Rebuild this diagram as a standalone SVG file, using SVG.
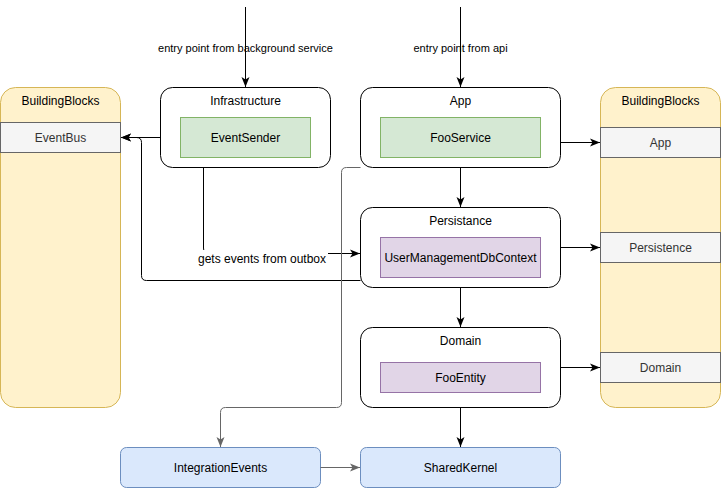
<svg xmlns="http://www.w3.org/2000/svg" width="721" height="488" viewBox="0 0 721 488">
<defs>
<style>
text{font-family:"Liberation Sans",Arial,sans-serif;font-size:12px;text-anchor:middle;dominant-baseline:central;fill:#000}
.lbl{font-size:11px}
.gray text,.row text{fill:#333}
.box{fill:#fff;stroke:#000;stroke-width:1}
.green{fill:#d5e8d4;stroke:#82b366}
.purple{fill:#e1d5e7;stroke:#9673a6}
.yellow{fill:#fff2cc;stroke:#d6b656}
.row rect{fill:#f5f5f5;stroke:#666}
.blue{fill:#dae8fc;stroke:#6c8ebf}
.e{fill:none;stroke:#000;stroke-width:1}
.eg{fill:none;stroke:#666;stroke-width:1}
</style>
<marker id="ab" markerUnits="userSpaceOnUse" markerWidth="12" markerHeight="10" refX="10" refY="4.5" orient="auto" viewBox="0 0 12 10">
<path d="M0,0.5 L10,4.5 L0,8.5 L2.5,4.5 z" fill="#000"/>
</marker>
<marker id="ag" markerUnits="userSpaceOnUse" markerWidth="12" markerHeight="10" refX="10" refY="4.5" orient="auto" viewBox="0 0 12 10">
<path d="M0,0.5 L10,4.5 L0,8.5 L2.5,4.5 z" fill="#666"/>
</marker>
</defs>
<rect width="721" height="488" fill="#fff"/>

<g id="bb-left">
<rect class="yellow" x="0.5" y="87.5" width="120" height="320" rx="15"/>
<text x="60.5" y="101">BuildingBlocks</text>
<g class="row"><rect x="0.5" y="122.5" width="120" height="30"/><text x="60.5" y="137.5">EventBus</text></g>
</g>

<g id="bb-right">
<rect class="yellow" x="600.5" y="87.5" width="120" height="320" rx="15"/>
<text x="660.5" y="101">BuildingBlocks</text>
<g class="row"><rect x="600.5" y="127.5" width="120" height="30"/><text x="660.5" y="142.5">App</text></g>
<g class="row"><rect x="600.5" y="232.5" width="120" height="30"/><text x="660.5" y="247.5">Persistence</text></g>
<g class="row"><rect x="600.5" y="352.5" width="120" height="30"/><text x="660.5" y="367.5">Domain</text></g>
</g>

<g id="infrastructure">
<rect class="box" x="160.5" y="87.5" width="170" height="80" rx="12"/>
<text x="245.5" y="101">Infrastructure</text>
<rect class="green" x="180.5" y="117.5" width="130" height="40"/>
<text x="245.5" y="137.5">EventSender</text>
</g>

<g id="app">
<rect class="box" x="360.5" y="87.5" width="200" height="80" rx="12"/>
<text x="460.5" y="101">App</text>
<rect class="green" x="380.5" y="117.5" width="160" height="40"/>
<text x="460.5" y="137.5">FooService</text>
</g>

<g id="persistance">
<rect class="box" x="360.5" y="207.5" width="200" height="80" rx="12"/>
<text x="460.5" y="221">Persistance</text>
<rect class="purple" x="380.5" y="237.5" width="160" height="40"/>
<text x="460.5" y="257.5">UserManagementDbContext</text>
</g>

<g id="domain">
<rect class="box" x="360.5" y="327.5" width="200" height="80" rx="12"/>
<text x="460.5" y="341">Domain</text>
<rect class="purple" x="380.5" y="362.5" width="160" height="30"/>
<text x="460.5" y="377.5">FooEntity</text>
</g>

<g id="integration-events">
<rect class="blue" x="120.5" y="447.5" width="200" height="40" rx="6"/>
<text x="220.5" y="467.5">IntegrationEvents</text>
</g>

<g id="shared-kernel">
<rect class="blue" x="360.5" y="447.5" width="200" height="40" rx="6"/>
<text x="460.5" y="467.5">SharedKernel</text>
</g>

<g id="connectors">
<path class="e" d="M245.5,7 V87" marker-end="url(#ab)"/>
<text class="lbl" x="245.5" y="48">entry point from background service</text>
<path class="e" d="M460.5,7 V87" marker-end="url(#ab)"/>
<text class="lbl" x="460.5" y="48">entry point from api</text>

<path class="e" d="M160.5,137.5 H121" marker-end="url(#ab)"/>
<path class="e" d="M360.5,280.5 H146.5 Q141.5,280.5 141.5,275.5 V142.5 Q141.5,137.5 136.5,137.5 H121" marker-end="url(#ab)"/>

<path class="e" d="M203.5,167.5 V248 Q203.5,253.5 208.5,253.5 H360" marker-end="url(#ab)"/>
<rect x="196" y="250" width="132" height="16" fill="#fff"/>
<text x="262" y="258.5">gets events from outbox</text>

<path class="eg" d="M360.5,167.5 H346.5 Q341.5,167.5 341.5,172.5 V402.5 Q341.5,407.5 336.5,407.5 H225.5 Q220.5,407.5 220.5,412.5 V447" marker-end="url(#ag)"/>

<path class="e" d="M460.5,167.5 V207" marker-end="url(#ab)"/>
<path class="e" d="M460.5,287.5 V327" marker-end="url(#ab)"/>
<path class="e" d="M460.5,407.5 V447" marker-end="url(#ab)"/>

<path class="e" d="M560.5,142.5 H600" marker-end="url(#ab)"/>
<path class="e" d="M560.5,247.5 H600" marker-end="url(#ab)"/>
<path class="e" d="M560.5,367.5 H600" marker-end="url(#ab)"/>

<path class="eg" d="M320.5,467.5 H360" marker-end="url(#ag)"/>
</g>
</svg>
